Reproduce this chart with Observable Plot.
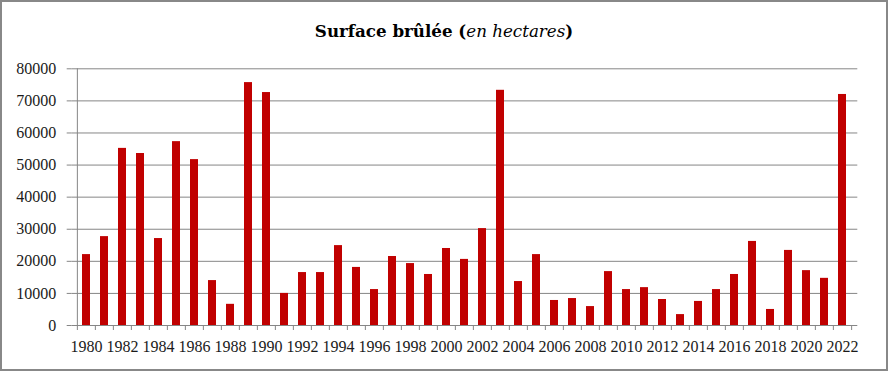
<!DOCTYPE html>
<html>
<head>
<meta charset="utf-8">
<script src="https://cdn.jsdelivr.net/npm/d3@7"></script>
<script src="https://cdn.jsdelivr.net/npm/@observablehq/plot@0.6"></script>
<style>
  html, body { margin: 0; padding: 0; background: #fff; }
  #wrap { position: relative; width: 888px; height: 371px; overflow: hidden; background: #fff; }
  #border { position: absolute; left: 0; top: 0; width: 888px; height: 371px; box-sizing: border-box; border: 2px solid #888888; pointer-events: none; }
  #title { position: absolute; left: 0; top: 21px; width: 888px; text-align: center; font-family: "DejaVu Serif", serif; font-weight: bold; font-size: 16.7px; line-height: 20px; color: #000; }
  #title i { font-weight: normal; }
  #chart { position: absolute; left: 0; top: 0; }
</style>
</head>
<body>
<div id="wrap">
  <div id="chart"></div>
  <div id="title">Surface brûlée (<i>en hectares</i>)</div>
  <div id="border"></div>
</div>
<script>
const years = [1980,1981,1982,1983,1984,1985,1986,1987,1988,1989,1990,1991,1992,1993,1994,1995,1996,1997,1998,1999,2000,2001,2002,2003,2004,2005,2006,2007,2008,2009,2010,2011,2012,2013,2014,2015,2016,2017,2018,2019,2020,2021,2022];
const areas = [22100,27700,55200,53600,27100,57300,51700,14000,6600,75700,72600,10000,16500,16500,24900,18100,11200,21500,19300,15900,24000,20600,30200,73300,13700,22100,7800,8400,5900,16800,11200,11800,8100,3400,7500,11200,15900,26200,5000,23400,17100,14700,72000];
const yTicks = [0,10000,20000,30000,40000,50000,60000,70000,80000];
const labelYears = years.filter(y => y % 2 === 0);

const data = years.map((year, i) => ({year, area: areas[i]}));

const W = 888, H = 371;
const mL = 71.7, mR = 30.7, mT = 68.3, mB = 46;
const step = (W - mL - mR) / years.length;
const gray = "#868686";

const chart = Plot.plot({
  width: W,
  height: H,
  marginLeft: mL,
  marginRight: mR,
  marginTop: mT,
  marginBottom: mB,
  style: {fontFamily: "'Liberation Serif', serif", fontSize: "16px", color: "#1a1a1a", background: "transparent"},
  x: {type: "band", domain: years, paddingInner: 0.55, paddingOuter: 0.275, axis: null, label: null},
  y: {domain: [0, 80000], axis: null, label: null},
  marks: [
    Plot.gridY(yTicks, {stroke: gray, strokeOpacity: 1}),
    Plot.axisY(yTicks, {tickSize: 5, tickPadding: 11, stroke: gray, label: null, tickFormat: d => String(d)}),
    Plot.ruleX([years[0]], {dx: -step / 2, stroke: gray}),
    Plot.barY(data, {x: "year", y: "area", fill: "#C00000"}),
    Plot.axisX(years, {tickSize: 5, dx: -step / 2, stroke: gray, label: null, tickFormat: () => ""}),
    Plot.axisX([years[years.length - 1]], {tickSize: 5, dx: step / 2, stroke: gray, label: null, tickFormat: () => ""}),
    Plot.axisX(labelYears, {tickSize: 0, tickPadding: 15, label: null, tickFormat: d => String(d)})
  ]
});
document.getElementById("chart").appendChild(chart);
</script>
</body>
</html>
